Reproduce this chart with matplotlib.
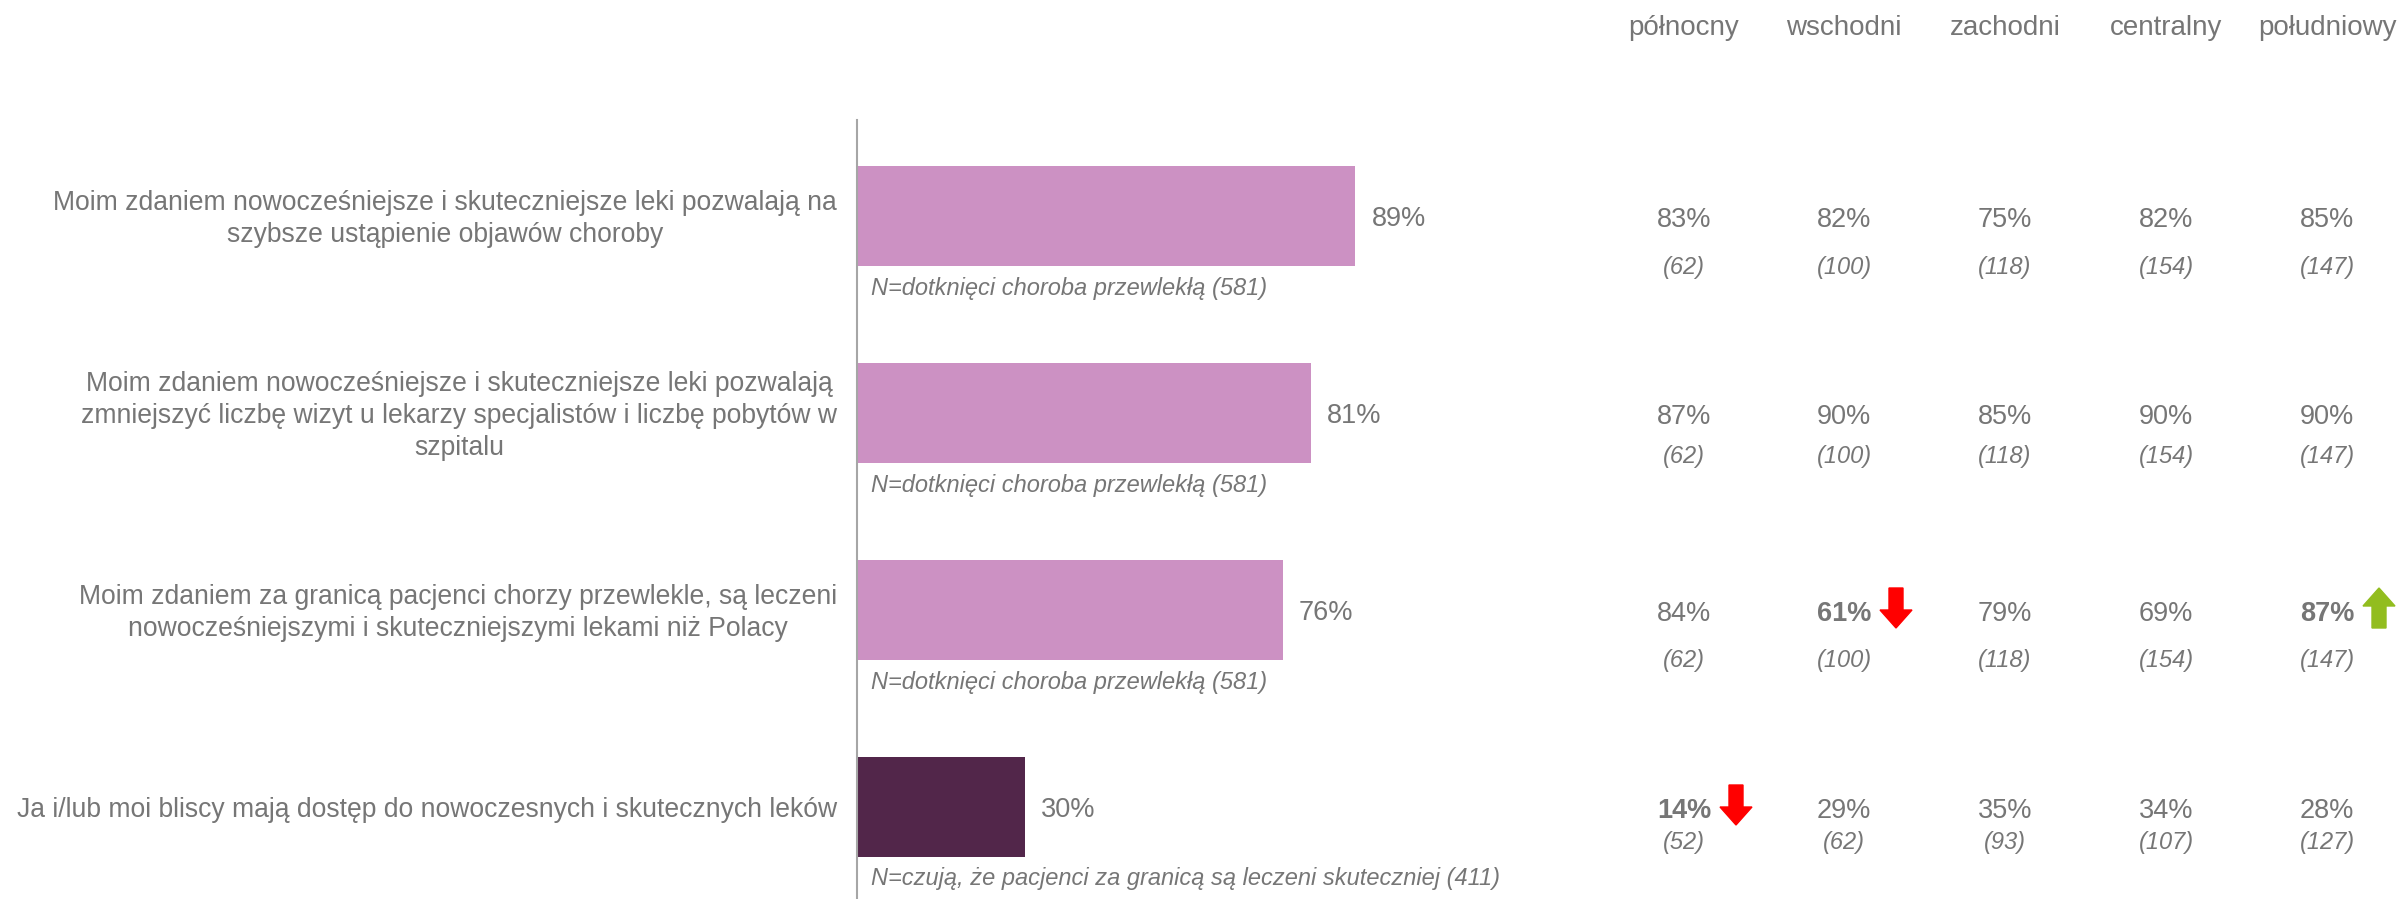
import matplotlib
matplotlib.use("Agg")
import matplotlib.pyplot as plt
import matplotlib.transforms as mtransforms
from matplotlib.patches import FancyArrow

plt.rcParams['font.family'] = ['Liberation Sans', 'DejaVu Sans']

# --- data -------------------------------------------------------------
statements = [
    "Moim zdaniem nowocześniejsze i skuteczniejsze leki pozwalają na\nszybsze ustąpienie objawów choroby",
    "Moim zdaniem nowocześniejsze i skuteczniejsze leki pozwalają\nzmniejszyć liczbę wizyt u lekarzy specjalistów i liczbę pobytów w\nszpitalu",
    "Moim zdaniem za granicą pacjenci chorzy przewlekle, są leczeni\nnowocześniejszymi i skuteczniejszymi lekami niż Polacy",
    "Ja i/lub moi bliscy mają dostęp do nowoczesnych i skutecznych leków",
]
totals = [89, 81, 76, 30]
base_notes = [
    "N=dotknięci choroba przewlekłą (581)",
    "N=dotknięci choroba przewlekłą (581)",
    "N=dotknięci choroba przewlekłą (581)",
    "N=czują, że pacjenci za granicą są leczeni skuteczniej (411)",
]
regions = ["północny", "wschodni", "zachodni", "centralny", "południowy"]
region_pct = [
    [83, 82, 75, 82, 85],
    [87, 90, 85, 90, 90],
    [84, 61, 79, 69, 87],
    [14, 29, 35, 34, 28],
]
region_n = [
    [62, 100, 118, 154, 147],
    [62, 100, 118, 154, 147],
    [62, 100, 118, 154, 147],
    [52, 62, 93, 107, 127],
]
# significance vs. total: -1 lower, +1 higher, 0 no difference
region_sig = [
    [0, 0, 0, 0, 0],
    [0, 0, 0, 0, 0],
    [0, -1, 0, 0, 1],
    [-1, 0, 0, 0, 0],
]

# --- style ------------------------------------------------------------
TEXT = "#767676"
BAR_COLORS = ["#CC91C3", "#CC91C3", "#CC91C3", "#52264A"]
RED = "#FF0000"
GREEN = "#92BD1F"
W, H = 2407, 899
DPI = 100
FS = 19.5        # values
FS_LABEL = 19.1  # statement labels
FS_HEAD = 20     # region headers
FS_SMALL = 17    # italic base sizes

fig = plt.figure(figsize=(W / DPI, H / DPI), dpi=DPI)
fig.patch.set_facecolor("white")

# bar area in pixel coordinates
ax_left, ax_right = 857, 1417
ax_top, ax_bottom = 120, 899
ax = fig.add_axes([ax_left / W, 1 - ax_bottom / H,
                   (ax_right - ax_left) / W, (ax_bottom - ax_top) / H])
ax.set_xlim(0, 100)
row_px = 197.0
first_center = 216
ax.set_ylim(3 + (ax_bottom - (first_center + 3 * row_px)) / row_px,
            -(first_center - ax_top) / row_px)
ax.set_facecolor("none")
for s in ["top", "right", "bottom"]:
    ax.spines[s].set_visible(False)
ax.spines["left"].set_color("#A6A6A6")
ax.spines["left"].set_linewidth(1.5)
ax.set_xticks([])
ax.set_yticks([])

bar_h = 100 / row_px
ypos = list(range(len(statements)))
ax.barh(ypos, totals, height=bar_h, color=BAR_COLORS, zorder=2)

for i, (v, note, lab) in enumerate(zip(totals, base_notes, statements)):
    ax.annotate(f"{v}%", (v, i), xytext=(16, -3), textcoords="offset pixels",
                ha="left", va="center", fontsize=FS, color=TEXT)
    ax.annotate(note, (0, i + bar_h / 2), xytext=(14, -22),
                textcoords="offset pixels", ha="left", va="center",
                fontsize=FS_SMALL, style="italic", color=TEXT)
    ax.annotate(lab, (0, i), xytext=(-20, -3), textcoords="offset pixels",
                ha="right", va="center", multialignment="center",
                fontsize=FS_LABEL, color=TEXT, linespacing=1.32)

# regional breakdown columns: x in figure pixels, y in data rows
col_x = [1684, 1844, 2005, 2166, 2327]
trans = mtransforms.blended_transform_factory(fig.transFigure, ax.transData)

for name, cx in zip(regions, col_x):
    fig.text(cx / W, 1 - 28 / H, name, ha="center", va="center",
             fontsize=FS_HEAD, color=TEXT)

n_offsets = [45, 37, 45, 30]
for i in range(len(statements)):
    for j, cx in enumerate(col_x):
        sig = region_sig[i][j]
        ax.annotate(f"{region_pct[i][j]}%", (cx / W, i), xycoords=trans,
                    xytext=(0, -4), textcoords="offset pixels",
                    ha="center", va="center", fontsize=FS, color=TEXT,
                    fontweight="bold" if sig else "normal")
        ax.annotate(f"({region_n[i][j]})", (cx / W, i), xycoords=trans,
                    xytext=(0, -6 - n_offsets[i]), textcoords="offset pixels",
                    ha="center", va="center", fontsize=FS_SMALL, style="italic",
                    color=TEXT)
        if sig:
            # arrow beside the value, drawn in display pixels
            ycen = ax.transData.transform((0, i))[1] + 2
            x_arrow = cx + 52
            length = 40
            if sig < 0:
                y0, dy, col = ycen + length / 2, -length, RED
            else:
                y0, dy, col = ycen - length / 2, length, GREEN
            arr = FancyArrow(x_arrow, y0, 0, dy, width=14, head_width=32,
                             head_length=18, length_includes_head=True,
                             color=col, transform=None)
            fig.patches.append(arr)

fig.savefig("out.png", dpi=DPI, facecolor="white")
